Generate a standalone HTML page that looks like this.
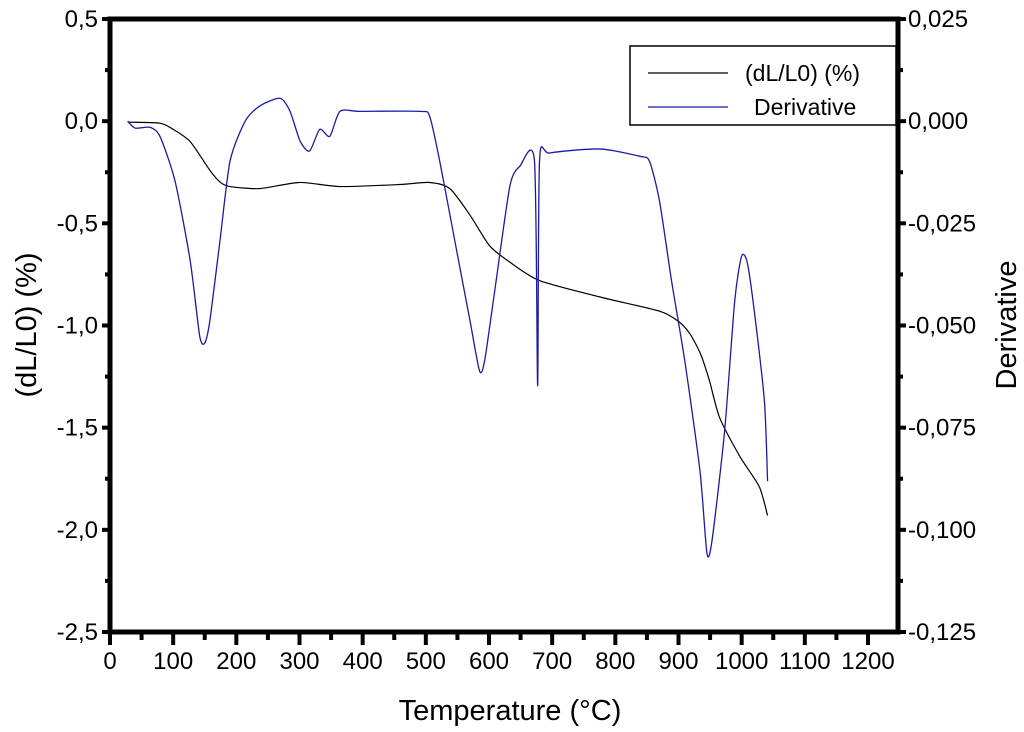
<!DOCTYPE html>
<html><head><meta charset="utf-8"><style>
body{margin:0;background:#fff}
svg text{font-family:"Liberation Sans",sans-serif;fill:#000}
</style></head><body>
<svg id="c" width="1024" height="727"></svg>
<script>
const tempL=[28,79,100,127,158,175,190,237,300,364,459,506,538,570,601,633,680,775,870,900,918,935,949,965,997,1028,1041];
const dlL0=[-0.005,-0.01,-0.04,-0.10,-0.24,-0.30,-0.32,-0.33,-0.30,-0.32,-0.31,-0.30,-0.33,-0.46,-0.61,-0.69,-0.78,-0.86,-0.93,-0.98,-1.04,-1.14,-1.27,-1.45,-1.64,-1.79,-1.93];
const tempD=[28,40,63,79,103,127,142,150,158,174,190,214,237,269,285,301,316,332,348,364,396,491,506,522,546,570,585,593,609,633,649,672,677,680,696,775,839,854,870,889,910,934,945,953,973,989,1000,1009,1020,1036,1041];
const deriv=[0,-0.0017,-0.0015,-0.0037,-0.0147,-0.0342,-0.0526,-0.0543,-0.0489,-0.0294,-0.0098,0,0.0037,0.0056,0.0024,-0.0049,-0.0073,-0.002,-0.0037,0.0024,0.0024,0.0024,0.0012,-0.0098,-0.0294,-0.0489,-0.0611,-0.0587,-0.0416,-0.0159,-0.011,-0.0098,-0.0648,-0.0098,-0.0078,-0.0068,-0.0086,-0.0098,-0.0196,-0.0391,-0.0587,-0.0856,-0.1057,-0.1027,-0.0758,-0.044,-0.033,-0.0347,-0.0465,-0.0685,-0.0881];
const xTicks=[0,100,200,300,400,500,600,700,800,900,1000,1100,1200];
const yLTicks=[0.5,0.0,-0.5,-1.0,-1.5,-2.0,-2.5];
const yRTicks=[0.025,0,-0.025,-0.05,-0.075,-0.1,-0.125];
const yRLabels=["0,025","0,000","-0,025","-0,050","-0,075","-0,100","-0,125"];

const L=110,R=898,T=19,B=632;
const x=v=>L+v*(868-110)/1200;
const yL=v=>T+(0.5-v)/3*(B-T);
const yR=v=>T+(0.025-v)/0.15*(B-T);
const svg=document.getElementById('c');
const NS='http://www.w3.org/2000/svg';
function mk(tag,attrs,parent){const e=document.createElementNS(NS,tag);for(const k in attrs)e.setAttribute(k,attrs[k]);(parent||svg).appendChild(e);return e;}
function smooth(pts){
  let d='M'+pts[0][0]+' '+pts[0][1];
  for(let i=0;i<pts.length-1;i++){
    const p0=pts[Math.max(0,i-1)],p1=pts[i],p2=pts[i+1],p3=pts[Math.min(pts.length-1,i+2)];
    const k=0.12;
    d+='C'+(p1[0]+(p2[0]-p0[0])*k)+' '+(p1[1]+(p2[1]-p0[1])*k)+' '+(p2[0]-(p3[0]-p1[0])*k)+' '+(p2[1]-(p3[1]-p1[1])*k)+' '+p2[0]+' '+p2[1];
  }
  return d;
}

const p1=mk('path',{d:smooth(tempL.map((t,i)=>[x(t),yL(dlL0[i])])),fill:'none',stroke:'#000','stroke-width':1.2});


const p2=mk('path',{d:smooth(tempD.map((t,i)=>[x(t),yR(deriv[i])])),fill:'none',stroke:'#1a1aa8','stroke-width':1.3});



const fr=mk('rect',{x:L,y:T,width:R-L,height:B-T,fill:'none',stroke:'#000','stroke-width':5});



xTicks.forEach(v=>{
  mk('line',{x1:x(v),x2:x(v),y1:B,y2:B+13,stroke:'#000','stroke-width':4});
  if(v<1200)mk('line',{x1:x(v+50),x2:x(v+50),y1:B,y2:B+8,stroke:'#000','stroke-width':4});
  const t=mk('text',{x:x(v),y:B+37,'text-anchor':'middle','font-size':24});t.textContent=v;
  
  
});
yLTicks.forEach(v=>{
  mk('line',{x1:L-8,x2:L,y1:yL(v),y2:yL(v),stroke:'#000','stroke-width':4});
  if(v>-2.5)mk('line',{x1:L-5,x2:L,y1:yL(v-0.25),y2:yL(v-0.25),stroke:'#000','stroke-width':4});
  const t=mk('text',{x:L-12,y:yL(v)+8,'text-anchor':'end','font-size':24});t.textContent=v.toFixed(1).replace('.',',');
  
  
});
yRTicks.forEach((v,i)=>{
  mk('line',{x1:R,x2:R+8,y1:yR(v),y2:yR(v),stroke:'#000','stroke-width':4});
  if(v>-0.125)mk('line',{x1:R,x2:R+5,y1:yR(v-0.0125),y2:yR(v-0.0125),stroke:'#000','stroke-width':4});
  const t=mk('text',{x:R+10,y:yR(v)+8,'font-size':24});t.textContent=yRLabels[i];
  
  
});
let t=mk('text',{x:510,y:720,'text-anchor':'middle','font-size':29});t.textContent='Temperature (°C)';


t=mk('text',{x:0,y:0,'text-anchor':'middle','font-size':29,transform:'translate(36,325) rotate(-90)'});t.textContent='(dL/L0) (%)';


t=mk('text',{x:0,y:0,'text-anchor':'middle','font-size':29,transform:'translate(1016,325) rotate(-90)'});t.textContent='Derivative';



const lg=mk('g',{});


mk('rect',{x:630,y:46,width:266,height:79,fill:'#fff',stroke:'#000','stroke-width':1.5},lg);
mk('line',{x1:648,x2:728,y1:73,y2:73,stroke:'#000','stroke-width':1.2},lg);
mk('line',{x1:648,x2:728,y1:107,y2:107,stroke:'#1a1aa8','stroke-width':1.3},lg);
t=mk('text',{x:745,y:81,'font-size':23},lg);t.textContent='(dL/L0) (%)';


t=mk('text',{x:754,y:115,'font-size':23},lg);t.textContent='Derivative';


</script>
</body></html>
